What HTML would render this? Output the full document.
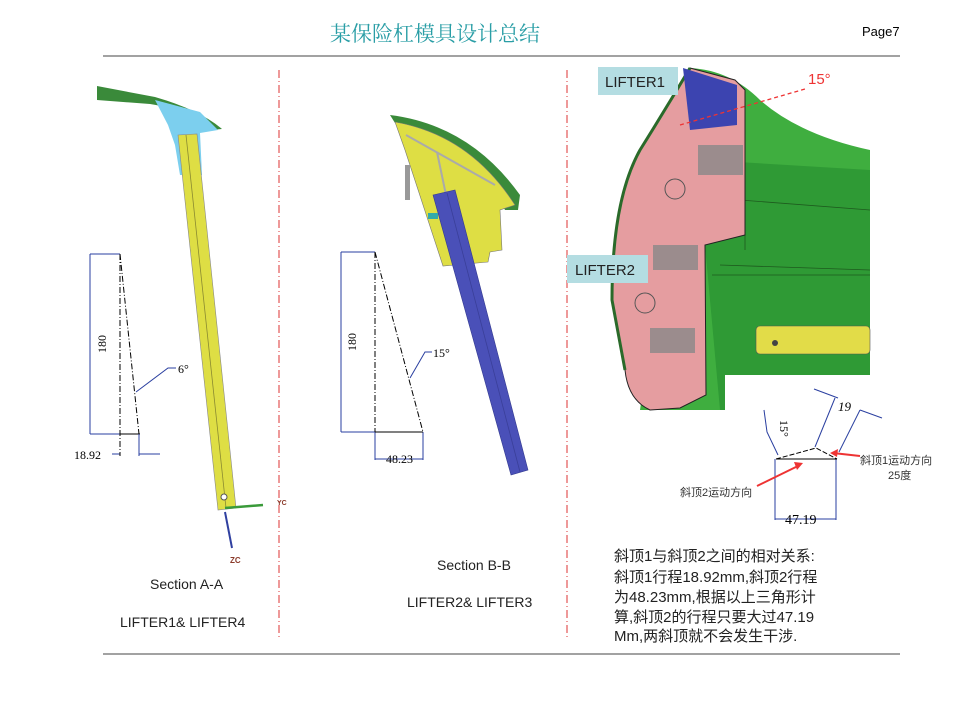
<!DOCTYPE html>
<html><head><meta charset="utf-8"><style>
body{margin:0;background:#fff;}
svg{display:block;font-family:"Liberation Sans","Noto Sans CJK SC",sans-serif;}
</style></head><body>
<svg width="956" height="717" viewBox="0 0 956 717" xmlns="http://www.w3.org/2000/svg">
<rect width="956" height="717" fill="#fff"/>
<text x="435" y="41" font-size="21" fill="#2a9ea6" text-anchor="middle" font-family="Noto Serif CJK SC,serif">某保险杠模具设计总结</text>
<text x="862" y="36" font-size="13" fill="#000">Page7</text>
<line x1="103" y1="56" x2="900" y2="56" stroke="#444" stroke-width="1"/>
<line x1="103" y1="654" x2="900" y2="654" stroke="#444" stroke-width="1"/>
<line x1="279" y1="70" x2="279" y2="640" stroke="#d33" stroke-width="1" stroke-dasharray="8,3,1,3"/>
<line x1="567" y1="70" x2="567" y2="640" stroke="#d33" stroke-width="1" stroke-dasharray="8,3,1,3"/>

<!-- Section A -->
<path d="M97,86 L155,97 Q200,110 222,129 L210,130 Q180,108 150,104 L97,100 Z" fill="#3a8a3a"/>
<polygon points="155,100 200,112 218,130 200,133 202,175 180,175 175,145 168,125" fill="#7ccfee"/>
<polygon points="178,135 197,134 236,508 218,510" fill="#dede44" stroke="#888" stroke-width="0.6"/>
<line x1="186" y1="135" x2="226" y2="508" stroke="#8a8a30" stroke-width="0.8"/>
<circle cx="224" cy="497" r="3" fill="#fff" stroke="#555"/>
<line x1="225" y1="512" x2="232" y2="548" stroke="#3040a0" stroke-width="2"/>
<line x1="225" y1="508" x2="263" y2="505" stroke="#3a9a3a" stroke-width="2.5"/>
<text x="230" y="563" font-size="8" fill="#8a3a2a" font-weight="bold">ZC</text>
<text x="277" y="505" font-size="7" fill="#8a3a2a" font-weight="bold">YC</text>
<g stroke="#2a3fa0" stroke-width="1" fill="none">
<line x1="90" y1="254" x2="120" y2="254"/><line x1="90" y1="434" x2="140" y2="434"/>
<line x1="90" y1="254" x2="90" y2="434"/>
<line x1="112" y1="454" x2="120" y2="454"/><line x1="139" y1="454" x2="160" y2="454"/>
<polyline points="136,392 168,368 176,368"/>
<line x1="341" y1="252" x2="375" y2="252"/><line x1="341" y1="432" x2="375" y2="432"/>
<line x1="341" y1="252" x2="341" y2="432"/>
<line x1="375" y1="432" x2="375" y2="460"/><line x1="423" y1="432" x2="423" y2="460"/>
<line x1="375" y1="459" x2="423" y2="459"/>
<polyline points="410,378 425,352 432,352"/>
</g>
<g stroke="#000" stroke-width="1" fill="none" stroke-dasharray="6,2,1,2">
<line x1="120" y1="254" x2="120" y2="456"/><line x1="120" y1="254" x2="139" y2="434"/>
<line x1="375" y1="252" x2="375" y2="432"/><line x1="375" y1="252" x2="423" y2="432"/>
</g>
<line x1="120" y1="434" x2="140" y2="434" stroke="#000"/><line x1="139" y1="434" x2="139" y2="456" stroke="#2a3fa0"/>
<line x1="375" y1="432" x2="423" y2="432" stroke="#000"/>
<text x="98" y="352" font-size="12" transform="rotate(-90 98 344)" text-anchor="middle" font-family="Liberation Serif,serif">180</text>
<text x="178" y="373" font-size="12" font-family="Liberation Serif,serif">6°</text>
<text x="74" y="459" font-size="12" font-family="Liberation Serif,serif">18.92</text>
<text x="348" y="350" font-size="12" transform="rotate(-90 348 342)" text-anchor="middle" font-family="Liberation Serif,serif">180</text>
<text x="433" y="357" font-size="12" font-family="Liberation Serif,serif">15°</text>
<text x="386" y="463" font-size="12" font-family="Liberation Serif,serif">48.23</text>

<!-- Section B -->
<path d="M390,115 Q470,125 520,195 L518,210 L505,210 Q470,140 395,123 Z" fill="#3a8a3a"/>
<path d="M395,122 Q470,135 515,205 L500,210 L502,250 L490,252 L488,262 L443,266 L405,150 Z" fill="#dede44" stroke="#777" stroke-width="0.6"/>
<line x1="406" y1="135" x2="495" y2="185" stroke="#aaa" stroke-width="2"/>
<line x1="437" y1="152" x2="446" y2="195" stroke="#aaa" stroke-width="2"/>
<polygon points="433,195 455,190 528,470 511,475" fill="#4a50b8" stroke="#333a90" stroke-width="0.6"/>
<line x1="447" y1="193" x2="520" y2="472" stroke="#3a3f99" stroke-width="0.8"/>
<rect x="405" y="165" width="5" height="35" fill="#999"/>
<rect x="428" y="213" width="10" height="6" fill="#3aa"/>

<!-- right image -->
<path d="M690,68 Q730,70 760,100 Q800,135 870,150 L870,410 L640,410 Z" fill="#3fae3f"/>
<path d="M705,160 L870,170 L870,410 L720,410 L705,245 Z" fill="#2f9a35"/>
<g stroke="#1e5a1e" stroke-width="0.8" fill="none">
<line x1="740" y1="200" x2="870" y2="210"/><line x1="720" y1="265" x2="870" y2="270"/><line x1="712" y1="275" x2="870" y2="275"/><line x1="745" y1="160" x2="745" y2="250"/>
</g>
<path d="M690,68 L735,80 L745,90 L745,235 L705,245 L706,395 L680,408 L650,410 Q628,400 625,370 L612,300 Q612,200 640,150 Q665,110 690,68 Z" fill="#e59da0" stroke="#222" stroke-width="1"/>
<path d="M690,68 Q665,110 640,150 Q612,200 612,300 L625,370" fill="none" stroke="#2a6a2a" stroke-width="3"/>
<polygon points="683,68 737,85 737,125 690,130" fill="#3c44b0"/>
<rect x="698" y="145" width="45" height="30" fill="#888" opacity="0.8"/>
<rect x="653" y="245" width="45" height="25" fill="#888" opacity="0.8"/>
<rect x="650" y="328" width="45" height="25" fill="#888" opacity="0.8"/>
<circle cx="675" cy="189" r="10" fill="none" stroke="#555"/>
<circle cx="645" cy="303" r="10" fill="none" stroke="#555"/>
<rect x="756" y="326" width="114" height="28" rx="4" fill="#e2dc48" stroke="#555" stroke-width="0.6"/>
<circle cx="775" cy="343" r="3" fill="#444"/>
<line x1="680" y1="125" x2="805" y2="89" stroke="#e33" stroke-width="1.3" stroke-dasharray="4,3"/>
<text x="808" y="84" font-size="15" fill="#e33">15°</text>
<rect x="598" y="67" width="80" height="28" fill="#b4dde2"/>
<text x="605" y="87" font-size="15" fill="#222">LIFTER1</text>
<rect x="567" y="255" width="81" height="28" fill="#b4dde2"/>
<text x="575" y="275" font-size="15" fill="#222">LIFTER2</text>

<rect x="725" y="375" width="160" height="155" fill="#fff"/>
<g stroke="#2a3fa0" stroke-width="1" fill="none">
<polyline points="764,410 767,432 778,455"/>
<line x1="815" y1="447" x2="835" y2="398"/><line x1="839" y1="452" x2="860" y2="410"/>
<line x1="814" y1="389" x2="838" y2="398"/><line x1="860" y1="410" x2="882" y2="418"/>
<line x1="775" y1="459" x2="775" y2="520"/><line x1="836" y1="459" x2="836" y2="520"/>
<line x1="775" y1="519" x2="836" y2="519"/>
</g>
<polyline points="776,459 816,448 837,459" fill="none" stroke="#000" stroke-dasharray="5,2"/>
<line x1="776" y1="459" x2="837" y2="459" stroke="#000"/>
<text x="768" y="408" font-size="12" transform="rotate(90 768 420)" font-family="Liberation Serif,serif">15°</text>
<text x="838" y="411" font-size="13" font-family="Liberation Serif,serif" font-style="italic">19</text>
<text x="785" y="524" font-size="14" font-family="Liberation Serif,serif">47.19</text>
<line x1="757" y1="486" x2="800" y2="465" stroke="#e33" stroke-width="2"/>
<polygon points="803,463 794,462 797,470" fill="#e33"/>
<line x1="860" y1="456" x2="833" y2="453" stroke="#e33" stroke-width="2"/>
<polygon points="830,453 838,449 837,457" fill="#e33"/>
<text x="680" y="496" font-size="11" fill="#333">斜顶2运动方向</text>
<text x="860" y="464" font-size="11" fill="#333">斜顶1运动方向</text>
<text x="888" y="479" font-size="11" fill="#333">25度</text>

<text x="150" y="589" font-size="14" fill="#222">Section A-A</text>
<text x="120" y="627" font-size="14" fill="#222">LIFTER1&amp; LIFTER4</text>
<text x="437" y="570" font-size="14" fill="#222">Section B-B</text>
<text x="407" y="607" font-size="14" fill="#222">LIFTER2&amp; LIFTER3</text>
<g font-size="15" fill="#222">
<text x="614" y="561">斜顶1与斜顶2之间的相对关系:</text>
<text x="614" y="582">斜顶1行程18.92mm,斜顶2行程</text>
<text x="614" y="602">为48.23mm,根据以上三角形计</text>
<text x="614" y="622">算,斜顶2的行程只要大过47.19</text>
<text x="614" y="641">Mm,两斜顶就不会发生干涉.</text>
</g>
</svg>
</body></html>
